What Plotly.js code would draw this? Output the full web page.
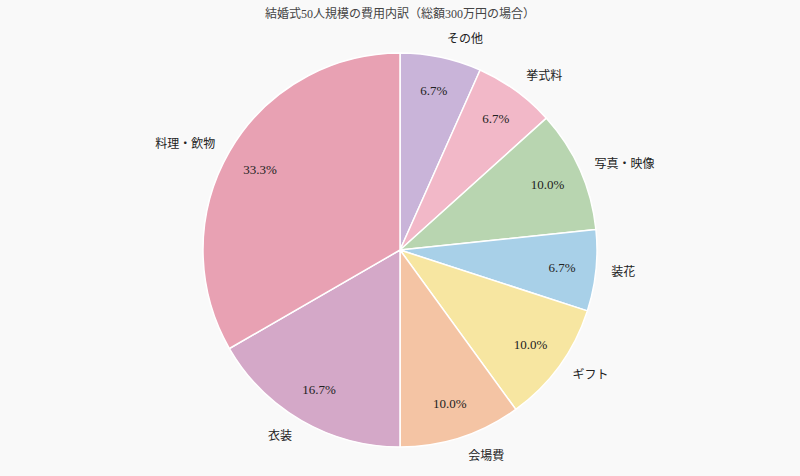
<!DOCTYPE html>
<html>
<head>
<meta charset="utf-8">
<script src="https://cdn.plot.ly/plotly-3.0.1.min.js"></script>
<style>html,body{margin:0;padding:0;background:#f9f9f9;}#chart{width:800px;height:476px;}</style>
</head>
<body>
<div id="chart"></div>
<script>
const categories = ['その他', '挙式料', '写真・映像', '装花', 'ギフト', '会場費', '衣装', '料理・飲物'];
const costs = [20, 20, 30, 20, 30, 30, 50, 100]; // 万円
const colors = ['#c9b4d9', '#f2b8c8', '#b8d5b0', '#a8d0e8', '#f7e6a1', '#f4c4a4', '#d4a8c8', '#e8a1b3'];
const chartTitle = '結婚式50人規模の費用内訳（総額300万円の場合）';

const FONT = "Liberation Serif, DejaVu Serif, Noto Sans CJK JP, serif";
const H = 476, cy = 250, r = 197;
function yDom(rad) { return [1 - (cy + rad) / H, 1 - (cy - rad) / H]; }
function xDom(rad) { return [(400 - rad) / 800, (400 + rad) / 800]; }

const main = {
  type: 'pie', labels: categories, values: costs, sort: false, direction: 'clockwise', rotation: 0,
  marker: {colors: colors, line: {color: '#ffffff', width: 1.5}},
  textinfo: 'none',
  domain: {x: xDom(r), y: yDom(r)}, showlegend: false, hoverinfo: 'label+value+percent'
};
const pct = {
  type: 'pie', labels: categories, values: costs, sort: false, direction: 'clockwise', rotation: 0, hole: 0.64,
  marker: {colors: categories.map(() => 'rgba(0,0,0,0)'), line: {width: 0}},
  textinfo: 'percent', textposition: 'inside', insidetextorientation: 'horizontal',
  texttemplate: '%{percent:.1%}',
  textfont: {family: FONT, size: 13, color: '#222'},
  domain: {x: xDom(r), y: yDom(r)}, showlegend: false, hoverinfo: 'skip'
};
const outer = {
  type: 'pie', labels: categories, values: costs, sort: false, direction: 'clockwise', rotation: 0,
  marker: {colors: categories.map(() => 'rgba(0,0,0,0)'), line: {width: 0}},
  textinfo: 'label', textposition: 'outside',
  textfont: {family: FONT, size: 12, color: '#222'},
  domain: {x: xDom(r + 12), y: yDom(r + 12)}, showlegend: false, hoverinfo: 'skip'
};
Plotly.newPlot('chart', [main, pct, outer], {
  width: 800, height: 476,
  margin: {l: 0, r: 0, t: 0, b: 0},
  paper_bgcolor: '#f9f9f9', plot_bgcolor: '#f9f9f9',
  title: {text: chartTitle, x: 0.5, xanchor: 'center', y: 1 - 14 / H, yanchor: 'middle', font: {family: FONT, size: 12, color: '#444'}},
  font: {family: FONT}
}, {displayModeBar: false});
</script>
</body>
</html>
